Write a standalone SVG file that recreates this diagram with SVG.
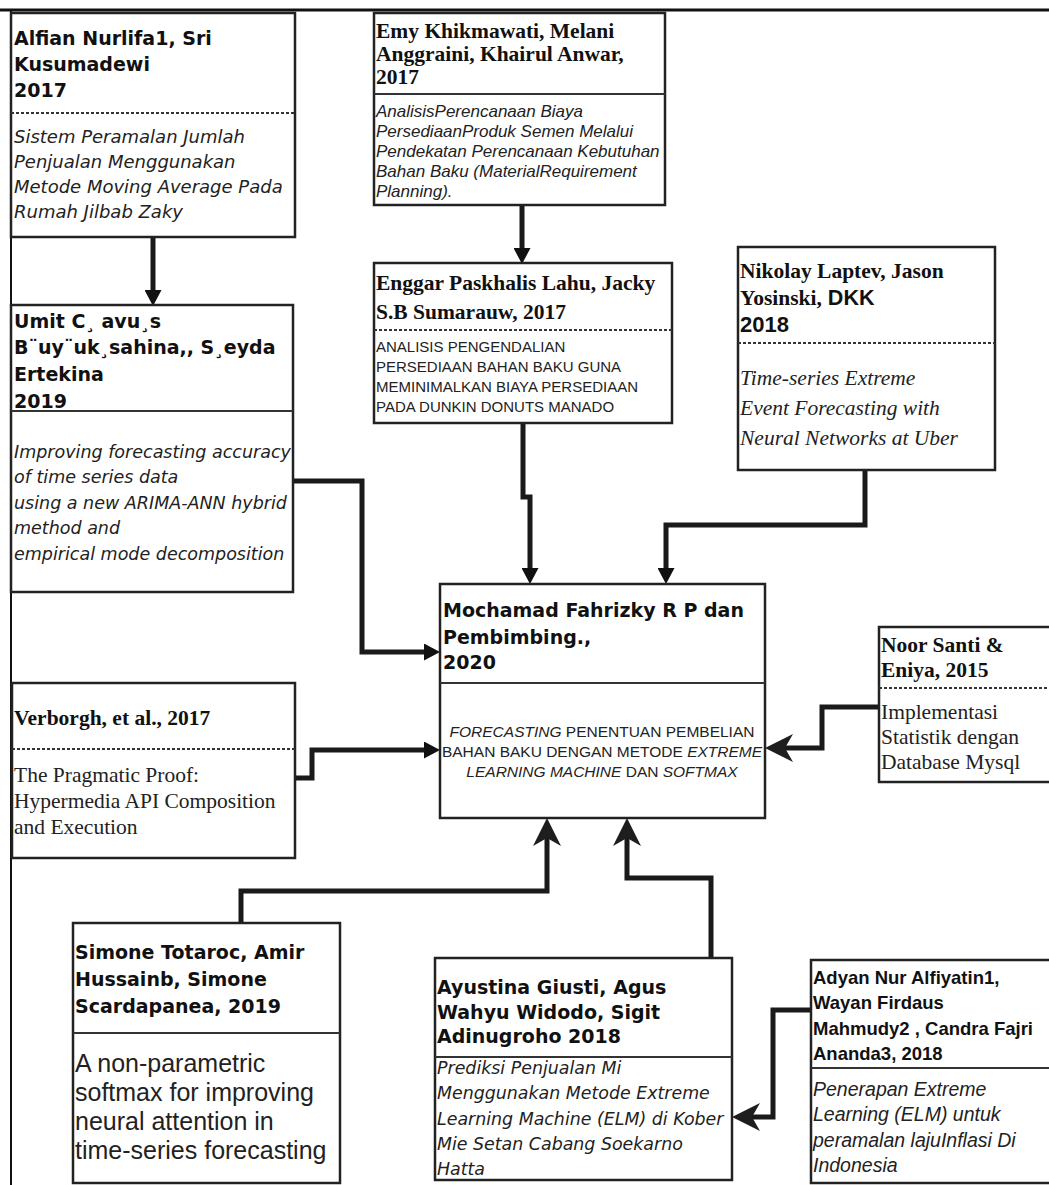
<svg xmlns="http://www.w3.org/2000/svg" width="1049" height="1185" viewBox="0 0 1049 1185">
<style>
.box{fill:#fff;stroke:#222;stroke-width:2.5}
.dash{stroke:#333;stroke-width:2;stroke-dasharray:3 2;fill:none}
.solid{stroke:#333;stroke-width:1.8;fill:none}
.con{fill:none;stroke:#1a1a1a;stroke-width:5}
.vb{font-family:"DejaVu Sans",Verdana,sans-serif;font-weight:bold;font-size:19px;fill:#111}
.vi{font-family:"DejaVu Sans",Verdana,sans-serif;font-style:italic;fill:#222}
.sb{font-family:"Liberation Serif","Times New Roman",serif;font-weight:bold;font-size:21.5px;fill:#111}
.sr{font-family:"Liberation Serif","Times New Roman",serif;font-size:21.5px;fill:#222}
.ar{font-family:"Liberation Sans",Arial,sans-serif;fill:#222}
.ab{font-family:"Liberation Sans",Arial,sans-serif;font-weight:bold;fill:#111}
</style>
<defs>
<marker id="tri" markerUnits="userSpaceOnUse" markerWidth="16" markerHeight="17" refX="0" refY="8.5" orient="auto">
<path d="M0,0 L16,8.5 L0,17 z" fill="#111"/>
</marker>
<marker id="barb" markerUnits="userSpaceOnUse" markerWidth="28" markerHeight="28" refX="8" refY="14" orient="auto">
<path d="M0,0 L28,14 L0,28 L8,14 z" fill="#1e1e1e"/>
</marker>
</defs>

<g id="frame">
<line x1="0" y1="10" x2="1049" y2="10" stroke="#111" stroke-width="3"/>
<line x1="11" y1="10" x2="11" y2="1185" stroke="#111" stroke-width="2"/>
</g>

<g id="connectors">
<path class="con" d="M153,237 L153,290" marker-end="url(#tri)"/>
<path class="con" d="M522,205 L522,248" marker-end="url(#tri)"/>
<path class="con" d="M523,423 L523,497 L530,497 L530,568" marker-end="url(#tri)"/>
<path class="con" d="M865,470 L865,525 L666,525 L666,568" marker-end="url(#tri)"/>
<path class="con" d="M293,481 L362,481 L362,652 L424,652" marker-end="url(#tri)"/>
<path class="con" d="M295,778 L312,778 L312,750 L424,750" marker-end="url(#tri)"/>
<path class="con" d="M879,707 L822,707 L822,748 L785,748" marker-end="url(#barb)"/>
<path class="con" d="M241,923 L241,891 L547,891 L547,838" marker-end="url(#barb)"/>
<path class="con" d="M711,958 L711,878 L627,878 L627,838" marker-end="url(#barb)"/>
<path class="con" d="M811,1010 L773,1010 L773,1117 L752,1117" marker-end="url(#barb)"/>
</g>

<g id="alfian">
<rect class="box" x="11" y="13" width="284" height="224"/>
<line class="dash" x1="11" y1="113" x2="295" y2="113"/>
<text class="vb" x="14" y="45">Alfian Nurlifa1, Sri</text>
<text class="vb" x="14" y="71">Kusumadewi</text>
<text class="vb" x="14" y="97">2017</text>
<text class="vi" font-size="18" x="14" y="143">Sistem Peramalan Jumlah</text>
<text class="vi" font-size="18" x="14" y="168">Penjualan Menggunakan</text>
<text class="vi" font-size="18" x="14" y="193">Metode Moving Average Pada</text>
<text class="vi" font-size="18" x="14" y="218">Rumah Jilbab Zaky</text>
</g>

<g id="umit">
<rect class="box" x="11" y="305" width="282" height="287"/>
<line class="solid" x1="11" y1="411" x2="293" y2="411"/>
<text class="vb" x="14" y="328">Umit C¸ avu¸s</text>
<text class="vb" x="14" y="354">B¨uy¨uk¸sahina,, S¸eyda</text>
<text class="vb" x="14" y="381">Ertekina</text>
<text class="vb" x="14" y="408">2019</text>
<text class="vi" font-size="17.5" x="14" y="458">Improving forecasting accuracy</text>
<text class="vi" font-size="17.5" x="14" y="483">of time series data</text>
<text class="vi" font-size="17.5" x="14" y="509">using a new ARIMA-ANN hybrid</text>
<text class="vi" font-size="17.5" x="14" y="534">method and</text>
<text class="vi" font-size="17.5" x="14" y="560">empirical mode decomposition</text>
</g>

<g id="emy">
<rect class="box" x="374" y="13" width="291" height="192"/>
<line class="solid" x1="374" y1="94" x2="665" y2="94"/>
<text class="sb" x="376" y="38">Emy Khikmawati, Melani</text>
<text class="sb" x="376" y="61">Anggraini, Khairul Anwar,</text>
<text class="sb" x="376" y="84">2017</text>
<text class="ar" font-size="17" font-style="italic" x="376" y="117">AnalisisPerencanaan Biaya</text>
<text class="ar" font-size="17" font-style="italic" x="376" y="137">PersediaanProduk Semen Melalui</text>
<text class="ar" font-size="17" font-style="italic" x="376" y="157">Pendekatan Perencanaan Kebutuhan</text>
<text class="ar" font-size="17" font-style="italic" x="376" y="177">Bahan Baku (MaterialRequirement</text>
<text class="ar" font-size="17" font-style="italic" x="376" y="197">Planning).</text>
</g>

<g id="enggar">
<rect class="box" x="374" y="263" width="298" height="160"/>
<line class="dash" x1="374" y1="330" x2="672" y2="330"/>
<text class="sb" x="376" y="290">Enggar Paskhalis Lahu, Jacky</text>
<text class="sb" x="376" y="319">S.B Sumarauw, 2017</text>
<text class="ar" font-size="15" x="376" y="352">ANALISIS PENGENDALIAN</text>
<text class="ar" font-size="15" x="376" y="372">PERSEDIAAN BAHAN BAKU GUNA</text>
<text class="ar" font-size="15" x="376" y="392">MEMINIMALKAN BIAYA PERSEDIAAN</text>
<text class="ar" font-size="15" x="376" y="412">PADA DUNKIN DONUTS MANADO</text>
</g>

<g id="nikolay">
<rect class="box" x="738" y="247" width="257" height="223"/>
<line class="dash" x1="738" y1="343" x2="995" y2="343"/>
<text class="sb" x="740" y="278">Nikolay Laptev, Jason</text>
<text class="sb" x="740" y="305">Yosinski,<tspan font-family="Liberation Sans, Arial, sans-serif"> DKK</tspan></text>
<text class="ab" font-size="22" x="740" y="332">2018</text>
<text class="sr" font-size="24" font-style="italic" x="740" y="385">Time-series Extreme</text>
<text class="sr" font-size="24" font-style="italic" x="740" y="415">Event Forecasting with</text>
<text class="sr" font-size="24" font-style="italic" x="740" y="445">Neural Networks at Uber</text>
</g>

<g id="mochamad">
<rect class="box" x="440" y="584" width="325" height="234"/>
<line class="solid" x1="440" y1="683" x2="765" y2="683"/>
<text class="vb" x="443" y="617">Mochamad Fahrizky R P dan</text>
<text class="vb" x="443" y="644">Pembimbing.,</text>
<text class="vb" x="443" y="669">2020</text>
<text class="ar" font-size="15.5" fill="#333" text-anchor="middle" x="602" y="737"><tspan font-style="italic">FORECASTING</tspan> PENENTUAN PEMBELIAN</text>
<text class="ar" font-size="15.5" fill="#333" text-anchor="middle" x="602" y="757">BAHAN BAKU DENGAN METODE <tspan font-style="italic">EXTREME</tspan></text>
<text class="ar" font-size="15.5" fill="#333" text-anchor="middle" x="602" y="777"><tspan font-style="italic">LEARNING MACHINE</tspan> DAN <tspan font-style="italic">SOFTMAX</tspan></text>
</g>

<g id="verborgh">
<rect class="box" x="12" y="683" width="283" height="175"/>
<line class="dash" x1="12" y1="749" x2="295" y2="749"/>
<text class="sb" x="14" y="725">Verborgh, et al., 2017</text>
<text class="sr" x="14" y="782">The Pragmatic Proof:</text>
<text class="sr" x="14" y="808">Hypermedia API Composition</text>
<text class="sr" x="14" y="834">and Execution</text>
</g>

<g id="noor">
<rect class="box" x="879" y="627" width="190" height="155"/>
<line class="dash" x1="879" y1="688" x2="1049" y2="688"/>
<text class="sb" x="881" y="652">Noor Santi &amp;</text>
<text class="sb" x="881" y="677">Eniya, 2015</text>
<text class="sr" x="881" y="719">Implementasi</text>
<text class="sr" x="881" y="744">Statistik dengan</text>
<text class="sr" x="881" y="769">Database Mysql</text>
</g>

<g id="simone">
<rect class="box" x="73" y="923" width="267" height="260"/>
<line class="solid" x1="73" y1="1033" x2="340" y2="1033"/>
<text class="vb" x="75" y="959">Simone Totaroc, Amir</text>
<text class="vb" x="75" y="986">Hussainb, Simone</text>
<text class="vb" x="75" y="1013">Scardapanea, 2019</text>
<text class="ar" font-size="25" x="75" y="1072">A non-parametric</text>
<text class="ar" font-size="25" x="75" y="1101">softmax for improving</text>
<text class="ar" font-size="25" x="75" y="1130">neural attention in</text>
<text class="ar" font-size="25" x="75" y="1159">time-series forecasting</text>
</g>

<g id="ayustina">
<rect class="box" x="435" y="958" width="297" height="222"/>
<line class="solid" x1="435" y1="1057" x2="732" y2="1057"/>
<text class="vb" x="437" y="994">Ayustina Giusti, Agus</text>
<text class="vb" x="437" y="1019">Wahyu Widodo, Sigit</text>
<text class="vb" x="437" y="1043">Adinugroho 2018</text>
<text class="vi" font-size="17.4" fill="#444" x="437" y="1074">Prediksi Penjualan Mi</text>
<text class="vi" font-size="17.4" fill="#444" x="437" y="1099">Menggunakan Metode Extreme</text>
<text class="vi" font-size="17.4" fill="#444" x="437" y="1125">Learning Machine (ELM) di Kober</text>
<text class="vi" font-size="17.4" fill="#444" x="437" y="1150">Mie Setan Cabang Soekarno</text>
<text class="vi" font-size="17.4" fill="#444" x="437" y="1175">Hatta</text>
</g>

<g id="adyan">
<rect class="box" x="811" y="960" width="250" height="223"/>
<line class="solid" x1="811" y1="1068" x2="1049" y2="1068"/>
<text class="ab" font-size="18.5" x="813" y="984">Adyan Nur Alfiyatin1,</text>
<text class="ab" font-size="18.5" x="813" y="1009">Wayan Firdaus</text>
<text class="ab" font-size="18.5" x="813" y="1035">Mahmudy2 , Candra Fajri</text>
<text class="ab" font-size="18.5" x="813" y="1060">Ananda3, 2018</text>
<text class="ar" font-size="19.5" font-style="italic" x="813" y="1096">Penerapan Extreme</text>
<text class="ar" font-size="19.5" font-style="italic" x="813" y="1121">Learning (ELM) untuk</text>
<text class="ar" font-size="19.5" font-style="italic" x="813" y="1147">peramalan lajuInflasi Di</text>
<text class="ar" font-size="19.5" font-style="italic" x="813" y="1172">Indonesia</text>
</g>
</svg>
